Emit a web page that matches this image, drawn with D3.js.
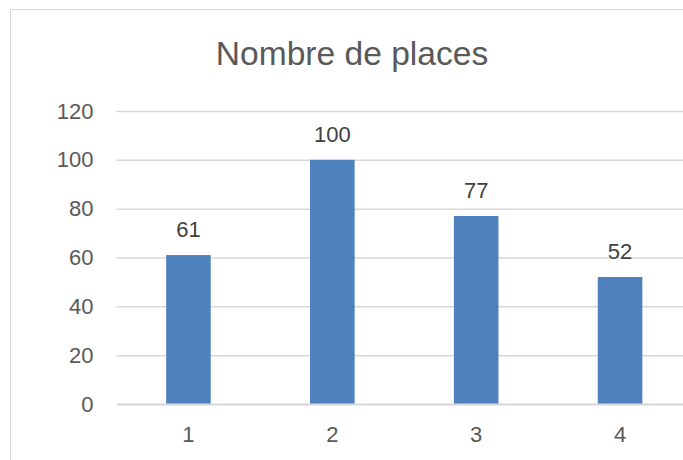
<!DOCTYPE html>
<html>
<head>
<meta charset="utf-8">
<script src="https://cdn.jsdelivr.net/npm/d3@7"></script>
<style>
html, body { margin: 0; padding: 0; background: #ffffff; overflow: hidden; }
svg { display: block; }
text { font-family: "Liberation Sans", Arial, sans-serif; }
</style>
</head>
<body>
<script>
const title = "Nombre de places";
const categories = ["1", "2", "3", "4"];
const values = [61, 100, 77, 52];
const yTicks = [0, 20, 40, 60, 80, 100, 120];

const W = 683, H = 460;
const svg = d3.select("body").append("svg").attr("width", W).attr("height", H);

// chart border
svg.append("rect")
  .attr("x", 10.5).attr("y", 9.5)
  .attr("width", 700).attr("height", 500)
  .attr("fill", "#ffffff")
  .attr("stroke", "#d9d9d9").attr("stroke-width", 1);

const plotLeft = 116.5, plotRight = 692;
const x = d3.scaleBand().domain(categories).range([plotLeft, plotRight])
  .paddingInner(0.69).paddingOuter(0.345);
const y = d3.scaleLinear().domain([0, 120]).range([404, 111]);

// gridlines
const yAxis = d3.axisLeft(y).tickValues(yTicks).tickSize(-(plotRight - plotLeft)).tickPadding(23);
const gy = svg.append("g").attr("transform", `translate(${plotLeft},0)`).call(yAxis);
gy.select(".domain").remove();
gy.selectAll(".tick line").attr("stroke", "#d9d9d9").attr("stroke-width", 1.5);
gy.selectAll(".tick text").attr("fill", "#595959").attr("font-size", 22)
  .attr("font-family", "Liberation Sans, Arial, sans-serif");

// bars
svg.append("g").selectAll("rect").data(values).join("rect")
  .attr("x", (d, i) => x(categories[i]))
  .attr("y", d => y(d))
  .attr("width", x.bandwidth())
  .attr("height", d => y(0) - y(d))
  .attr("fill", "#4f81bd");

// x axis line
const xAxis = d3.axisBottom(x).tickSize(0).tickPadding(22);
const gx = svg.append("g").attr("transform", `translate(0,${y(0)})`).call(xAxis);
gx.select(".domain").attr("stroke", "#d9d9d9").attr("stroke-width", 2);
gx.selectAll(".tick text").attr("fill", "#595959").attr("font-size", 22)
  .attr("font-family", "Liberation Sans, Arial, sans-serif");

// data labels
svg.append("g").selectAll("text").data(values).join("text")
  .attr("x", (d, i) => x(categories[i]) + x.bandwidth() / 2)
  .attr("y", d => y(d) - 18)
  .attr("text-anchor", "middle")
  .attr("fill", "#404040")
  .attr("font-size", 22)
  .text(d => d);

// title
svg.append("text")
  .attr("x", 352).attr("y", 65)
  .attr("text-anchor", "middle")
  .attr("fill", "#595959")
  .attr("font-size", 33.6)
  .text(title);
</script>
</body>
</html>
